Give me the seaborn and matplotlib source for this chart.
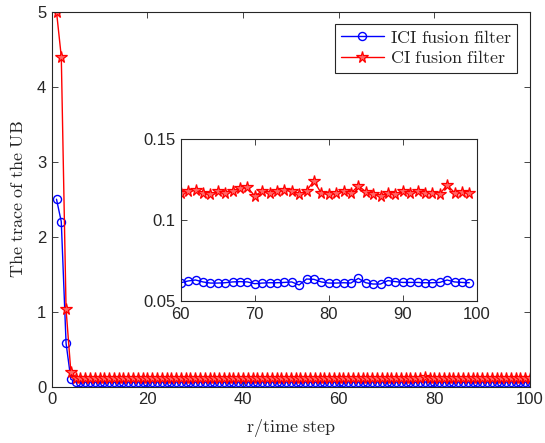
import numpy as np
import pandas as pd
import matplotlib
matplotlib.use("Agg")
import matplotlib.pyplot as plt
import seaborn as sns

sns.set_style("ticks")
plt.rcParams['font.family'] = ['Liberation Sans', 'DejaVu Sans']
plt.rcParams['mathtext.fontset'] = 'cm'

steps = list(range(1, 101))

ci_vals = [5.0, 4.4, 1.03, 0.20,
           0.121, 0.118, 0.117, 0.119, 0.116, 0.118, 0.117, 0.120, 0.118, 0.116,
           0.117, 0.119, 0.118, 0.117, 0.116, 0.118, 0.121, 0.117, 0.118, 0.117,
           0.119, 0.116, 0.118, 0.117, 0.118, 0.120, 0.117, 0.116, 0.118, 0.117,
           0.118, 0.119, 0.117, 0.116, 0.118, 0.117, 0.122, 0.118, 0.117, 0.116,
           0.118, 0.117, 0.119, 0.118, 0.116, 0.117, 0.118, 0.120, 0.117, 0.118,
           0.117, 0.116, 0.118, 0.119, 0.117,
           0.1170, 0.1178, 0.1187, 0.1166, 0.1162, 0.1178, 0.1170, 0.1182, 0.1197, 0.1203,
           0.1150, 0.1180, 0.1170, 0.1182, 0.1187, 0.1180, 0.1162, 0.1182, 0.1242, 0.1166,
           0.1162, 0.1170, 0.1178, 0.1166, 0.1213, 0.1176, 0.1160, 0.1152, 0.1170, 0.1162,
           0.1180, 0.1170, 0.1178, 0.1170, 0.1170, 0.1162, 0.1217, 0.1170, 0.1176, 0.1170,
           0.1170]

ici_vals = [2.5, 2.2, 0.58, 0.10,
            0.064, 0.062, 0.061, 0.062, 0.061, 0.061, 0.062, 0.061, 0.060, 0.061,
            0.062, 0.061, 0.061, 0.062, 0.060, 0.061, 0.061, 0.062, 0.061, 0.061,
            0.061, 0.062, 0.061, 0.060, 0.061, 0.061, 0.062, 0.061, 0.061, 0.061,
            0.062, 0.061, 0.060, 0.061, 0.061, 0.062, 0.061, 0.061, 0.061, 0.062,
            0.061, 0.061, 0.060, 0.061, 0.062, 0.061, 0.061, 0.061, 0.062, 0.061,
            0.061, 0.060, 0.061, 0.062, 0.061,
            0.0613, 0.0624, 0.0630, 0.0618, 0.0611, 0.0611, 0.0613, 0.0618, 0.0620, 0.0618,
            0.0607, 0.0611, 0.0613, 0.0613, 0.0615, 0.0618, 0.0599, 0.0636, 0.0634, 0.0618,
            0.0611, 0.0611, 0.0613, 0.0611, 0.0640, 0.0613, 0.0605, 0.0605, 0.0626, 0.0620,
            0.0615, 0.0615, 0.0615, 0.0613, 0.0613, 0.0615, 0.0630, 0.0618, 0.0615, 0.0613,
            0.0613]

inset_start, inset_end = 60, 99

df = pd.DataFrame({"step": steps, "ICI": ici_vals, "CI": ci_vals})
dfi = df[(df.step >= inset_start) & (df.step <= inset_end)]

fig = plt.figure(figsize=(5.45, 4.43), dpi=100)
ax = fig.add_axes([0.0949, 0.127, 0.8776, 0.8466])

ici_style = dict(color='blue', marker='o', markersize=5.8, markerfacecolor='none',
                 markeredgecolor='blue', markeredgewidth=1.0, linewidth=1.0)
ci_style = dict(color='red', marker='*', markersize=8.5, markerfacecolor='#ff6666',
                markeredgecolor='red', markeredgewidth=0.9, linewidth=1.0)

sns.lineplot(data=df, x="step", y="ICI", ax=ax, label="ICI fusion filter", **ici_style)
sns.lineplot(data=df, x="step", y="CI", ax=ax, label="CI fusion filter", **ci_style)

ax.set_xlim(0, 100)
ax.set_ylim(0, 5)
ax.set_xticks([0, 20, 40, 60, 80, 100])
ax.set_yticks([0, 1, 2, 3, 4, 5])
ax.set_xlabel(r"$\mathrm{r/time\ step}$", fontsize=13, labelpad=7)
ax.set_ylabel(r"$\mathrm{The\ trace\ of\ the\ UB}$", fontsize=13, labelpad=7)

ax.tick_params(direction='in', top=True, right=True, labelsize=12, length=4,
               width=0.6, color='#262626', pad=4)
for s in ax.spines.values():
    s.set_color('#262626')
    s.set_linewidth(0.8)

leg = ax.legend(loc='upper right', frameon=True, fancybox=False,
                framealpha=1, edgecolor='#262626', borderpad=0.3, handlelength=2.4,
                labelspacing=0.2, handletextpad=0.3, borderaxespad=0.7,
                prop={'size': 13})
leg.get_frame().set_linewidth(0.8)
for t in leg.get_texts():
    t.set_text(r"$\mathrm{" + t.get_text().replace(" ", r"\ ") + "}$")

axi = fig.add_axes([0.3316, 0.3205, 0.5431, 0.3651])
sns.lineplot(data=dfi, x="step", y="ICI", ax=axi, legend=False, **ici_style)
sns.lineplot(data=dfi, x="step", y="CI", ax=axi, legend=False, **ci_style)
axi.set_xlim(60, 100)
axi.set_ylim(0.05, 0.15)
axi.set_xticks([60, 70, 80, 90, 100])
axi.set_yticks([0.05, 0.1, 0.15])
axi.set_yticklabels(["0.05", "0.1", "0.15"])
axi.set_xlabel("")
axi.set_ylabel("")
axi.tick_params(direction='in', top=True, right=True, labelsize=12, length=4,
                width=0.6, color='#262626', pad=4)
for s in axi.spines.values():
    s.set_color('#262626')
    s.set_linewidth(0.8)

fig.savefig("out.png", dpi=100)
